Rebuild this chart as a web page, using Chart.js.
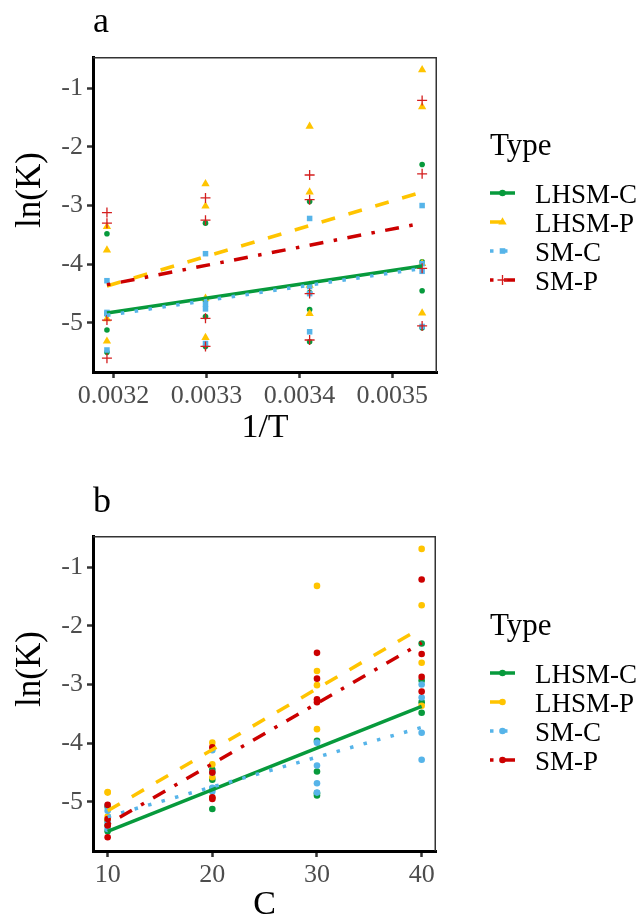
<!DOCTYPE html>
<html><head><meta charset="utf-8">
<script src="https://cdn.jsdelivr.net/npm/chart.js@4.4.1/dist/chart.umd.min.js"></script>
<style>
html,body{margin:0;padding:0;background:#fff;width:638px;height:923px;overflow:hidden}
canvas{position:absolute;left:0}
#ca{top:0}
#cb{top:470px}
</style></head><body>
<canvas id="ca" width="638" height="470"></canvas>
<canvas id="cb" width="638" height="453"></canvas>
<script>
// ---------- data ----------
const types = ['LHSM-C', 'LHSM-P', 'SM-C', 'SM-P'];
// 1/T values (rows): 313.15 K, 303.15 K, 293.15 K, 283.15 K
const invT = [0.003193, 0.003299, 0.003411, 0.003532];
// C values (columns)
const concC = [10, 20, 30, 40];
// ln(K): rows follow invT, columns follow concC
const lnK_LHSM_C = [
  [-5.50, -5.12, -4.85, -3.48],
  [-5.40, -4.62, -4.89, -3.30],
  [-5.32, -4.77, -4.48, -2.93],
  [-5.08, -4.45, -3.96, -2.30]
];
const lnK_LHSM_P = [
  [-5.31, -4.93, -3.76, -3.36],
  [-5.25, -4.58, -3.01, -2.63],
  [-4.84, -4.36, -2.77, -1.65],
  [-4.83, -3.99, -1.32, -0.69]
];
const lnK_SM_C = [
  [-5.46, -4.82, -4.84, -4.28],
  [-5.35, -4.76, -4.68, -3.82],
  [-5.15, -4.50, -4.38, -3.22],
  [-5.06, -4.12, -3.99, -3.00]
];
const lnK_SM_P = [
  [-5.60, -4.95, -3.30, -3.12],
  [-5.40, -4.92, -3.25, -2.87],
  [-5.29, -4.50, -2.90, -2.48],
  [-5.05, -4.07, -2.46, -1.21]
];
// fitted lines: value at first and last x
const fitA_LHSM_C = [-4.83, -4.03];
const fitA_LHSM_P = [-4.37, -2.77];
const fitA_SM_C   = [-4.87, -4.07];
const fitA_SM_P   = [-4.35, -3.30];
const fitB_LHSM_C = [-5.50, -3.37];
const fitB_LHSM_P = [-5.15, -2.03];
const fitB_SM_C   = [-5.25, -3.73];
const fitB_SM_P   = [-5.38, -2.29];
// tick labels
const ticksAx = [0.0032, 0.0033, 0.0034, 0.0035];
const ticksBx = [10, 20, 30, 40];
const ticksY  = [-5, -4, -3, -2, -1];

// ---------- styles ----------
const FONT = "'Liberation Serif', 'Times New Roman', serif";
const colors = ['#079A3C', '#FFC400', '#56B4E9', '#CC0000'];
const dashes = [[], [14, 14], [3.5, 10.5], [3.5, 10.5, 14, 10.5]];
const LW = 3.5;
const matrices = [lnK_LHSM_C, lnK_LHSM_P, lnK_SM_C, lnK_SM_P];
const fitsA = [fitA_LHSM_C, fitA_LHSM_P, fitA_SM_C, fitA_SM_P];
const fitsB = [fitB_LHSM_C, fitB_LHSM_P, fitB_SM_C, fitB_SM_P];
const shapesA = ['circle', 'triangle', 'rect', 'cross'];
const radiiA = [2.8, 4.8, 3.9, 5];

function pointsA(m) {
  const out = [];
  m.forEach((row, i) => row.forEach(v => out.push({x: invT[i], y: v})));
  return out;
}
function pointsB(m) {
  const out = [];
  m.forEach(row => row.forEach((v, j) => out.push({x: concC[j], y: v})));
  return out;
}

function buildDatasets(panel) {
  const ds = [];
  types.forEach((t, k) => {
    const isA = panel === 'a';
    const shape = isA ? shapesA[k] : 'circle';
    const r = isA ? radiiA[k] : 3.3;
    const cross = shape === 'cross';
    ds.push({
      label: t + ' points',
      type: 'scatter',
      data: isA ? pointsA(matrices[k]) : pointsB(matrices[k]),
      showLine: false,
      pointStyle: shape,
      pointRadius: r,
      pointBackgroundColor: colors[k],
      pointBorderColor: cross ? '#D41E1E' : colors[k],
      pointBorderWidth: cross ? 1.3 : 0,
      order: 20 - k
    });
  });
  types.forEach((t, k) => {
    const isA = panel === 'a';
    const f = isA ? fitsA[k] : fitsB[k];
    const xs = isA ? [invT[0], invT[3]] : [concC[0], concC[3]];
    ds.push({
      label: t + ' fit',
      type: 'scatter',
      data: [{x: xs[0], y: f[0]}, {x: xs[1], y: f[1]}],
      showLine: true,
      borderColor: colors[k],
      borderWidth: LW,
      borderDash: dashes[k],
      borderCapStyle: 'butt',
      pointRadius: 0,
      order: 8 - k
    });
  });
  return ds;
}

function drawKeyPoint(ctx, shape, x, y, color) {
  ctx.save();
  ctx.fillStyle = color; ctx.strokeStyle = color;
  ctx.beginPath();
  if (shape === 'circle') {
    ctx.arc(x, y, 3.3, 0, Math.PI * 2); ctx.fill();
  } else if (shape === 'triangle') {
    const r = 4.8;
    ctx.moveTo(x, y - r);
    ctx.lineTo(x + r * 0.866, y + r / 2);
    ctx.lineTo(x - r * 0.866, y + r / 2);
    ctx.closePath(); ctx.fill();
  } else if (shape === 'rect') {
    ctx.rect(x - 2.8, y - 2.8, 5.6, 5.6); ctx.fill();
  } else {
    ctx.strokeStyle = '#D41E1E'; ctx.lineWidth = 1.3;
    ctx.moveTo(x - 5, y); ctx.lineTo(x + 5, y);
    ctx.moveTo(x, y - 5); ctx.lineTo(x, y + 5); ctx.stroke();
  }
  ctx.restore();
}

function decorPlugin(panel, titleBase, legTop) {
  return {
    id: 'decor',
    afterDraw(chart) {
      const ctx = chart.ctx;
      const a = chart.chartArea;
      ctx.save();
      // thin top/right border
      ctx.strokeStyle = '#333'; ctx.lineWidth = 1.5;
      ctx.beginPath();
      ctx.moveTo(a.left, a.top + 0.75); ctx.lineTo(a.right - 0.75, a.top + 0.75);
      ctx.lineTo(a.right - 0.75, a.bottom);
      ctx.stroke();
      // panel tag
      ctx.fillStyle = '#000';
      ctx.font = `36px ${FONT}`;
      ctx.textBaseline = 'alphabetic'; ctx.textAlign = 'left';
      ctx.fillText(panel, 93, titleBase);
      // y axis title
      ctx.save();
      ctx.font = `35px ${FONT}`;
      ctx.textAlign = 'center'; ctx.textBaseline = 'middle';
      ctx.translate(31, a.top + 133);
      ctx.rotate(-Math.PI / 2);
      ctx.fillText('ln(K)', 0, 0);
      ctx.restore();
      // legend
      ctx.font = `31px ${FONT}`;
      ctx.fillText('Type', 490, legTop + 35);
      ctx.font = `27px ${FONT}`;
      types.forEach((t, k) => {
        const base = legTop + 83 + k * 29;
        const ky = base - 10;
        ctx.fillStyle = '#000';
        ctx.fillText(t, 535, base);
        ctx.save();
        ctx.strokeStyle = colors[k]; ctx.lineWidth = LW; ctx.lineCap = 'butt';
        ctx.setLineDash(dashes[k]);
        ctx.beginPath(); ctx.moveTo(490, ky); ctx.lineTo(515, ky); ctx.stroke();
        ctx.restore();
        drawKeyPoint(ctx, panel === 'a' ? shapesA[k] : 'circle', 502.5, ky, colors[k]);
      });
      ctx.restore();
    }
  };
}

function makeChart(id, panel) {
  const isA = panel === 'a';
  const xTicks = isA ? ticksAx : ticksBx;
  const axisH = isA ? 98 : 72;
  const cfg = {
    type: 'scatter',
    data: {datasets: buildDatasets(panel)},
    options: {
      responsive: false, animation: false, devicePixelRatio: 1, events: [],
      layout: {padding: {left: 0, top: isA ? 57 : 66, right: isA ? 201 : 202, bottom: 0}},
      plugins: {legend: {display: false}, tooltip: {enabled: false}, title: {display: false}},
      scales: {
        x: {
          type: 'linear',
          min: isA ? 0.003178 : 8.6,
          max: isA ? 0.003548 : 41.37,
          afterBuildTicks: s => { s.ticks = xTicks.map(v => ({value: v})); },
          afterFit: s => { s.height = axisH; },
          ticks: {
            autoSkip: false, maxRotation: 0, padding: 3, color: '#4D4D4D',
            font: {family: FONT, size: 26},
            callback: v => isA ? v.toFixed(4) : String(v)
          },
          grid: {drawOnChartArea: false, drawTicks: true, tickLength: 6, tickWidth: 2.5, tickColor: '#333'},
          border: {display: true, color: '#000', width: 3},
          title: {
            display: true, text: isA ? '1/T' : 'C', color: '#000',
            font: {family: FONT, size: 34, lineHeight: 1.0},
            padding: {top: 0, bottom: isA ? 25 : 1}
          }
        },
        y: {
          type: 'linear', min: -5.835, max: -0.47,
          afterBuildTicks: s => { s.ticks = ticksY.map(v => ({value: v})); },
          afterFit: s => { s.width = 93; },
          ticks: {
            padding: 4, color: '#4D4D4D', font: {family: FONT, size: 26},
            callback: v => String(v)
          },
          grid: {drawOnChartArea: false, drawTicks: true, tickLength: 6, tickWidth: 2.5, tickColor: '#333'},
          border: {display: true, color: '#000', width: 3},
          title: {display: false}
        }
      }
    },
    plugins: [decorPlugin(panel, isA ? 32 : 42, isA ? 120 : 130)]
  };
  return new Chart(document.getElementById(id), cfg);
}

makeChart('ca', 'a');
makeChart('cb', 'b');
</script>
</body></html>
